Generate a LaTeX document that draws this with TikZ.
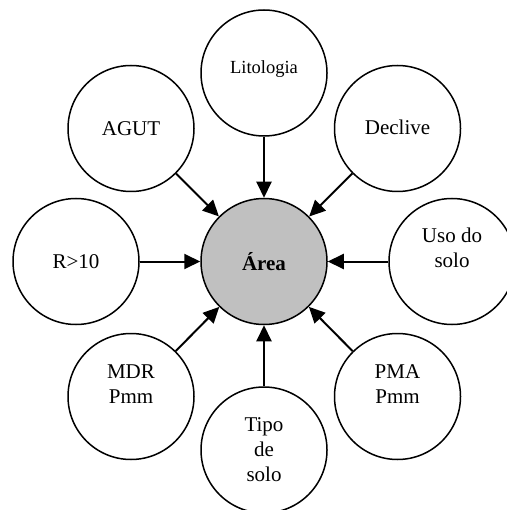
\documentclass[tikz,border=0pt]{standalone}
\usepackage{fontspec}
\setmainfont{Liberation Serif}
\usetikzlibrary{arrows.meta}
\definecolor{areagray}{RGB}{192,192,192}
\tikzset{x=1pt, y=-1pt, % work in page points, y running down
      bubble/.style={ % every factor circle
      circle, draw, line width=1.5pt,
      minimum size=126pt, inner sep=0pt},
      txt/.style={ % text set inside a circle
      align=center, font=\fontsize{21}{25}\selectfont},
      every edge/.style={ % arrows into the centre
            draw,
      -{Triangle[length=16pt,width=15pt]},
      line width=2pt}}

\begin{document}
\begin{tikzpicture}
      \useasboundingbox (0,0) rectangle (506,510);
      \node[bubble, fill=areagray] (area) at (264,261.5) {};
      \node[bubble] (lito) at (264,73) {};
      \node[bubble] (decl) at (397.5,128.5) {};
      \node[bubble] (uso) at (452,261.5) {};
      \node[bubble] (pma) at (397.5,396.5) {};
      \node[bubble] (tipo) at (264,450) {};
      \node[bubble] (mdr) at (131,396.5) {};
      \node[bubble] (rdez) at (76,261.5) {};
      \node[bubble] (agut) at (131,128.5) {};
      % labels
      \node[txt, font=\bfseries\fontsize{21}{25}\selectfont] (area-t) at (area) {Área};
      \node[txt, font=\fontsize{18.5}{22}\selectfont] (lito-t) at ([yshift=4pt]lito) {Litologia};
      \node[txt] (decl-t) at ([yshift=1pt]decl) {Declive};
      \node[txt] (uso-t) at ([yshift=14pt]uso) {Uso do\\solo};
      \node[txt] (pma-t) at ([yshift=12pt]pma) {PMA\\Pmm};
      \node[txt] (tipo-t) at (tipo) {Tipo\\de\\solo};
      \node[txt] (mdr-t) at ([yshift=12pt]mdr) {MDR\\Pmm};
      \node[txt] (rdez-t) at (rdez) {R>10};
      \node[txt] (agut-t) at (agut) {AGUT};
      % arrows
      \draw (lito) edge (area);
      \draw (decl) edge (area);
      \draw (uso) edge (area);
      \draw (pma) edge (area);
      \draw (tipo) edge (area);
      \draw (mdr) edge (area);
      \draw (rdez) edge (area);
      \draw (agut) edge (area);
\end{tikzpicture}
\end{document}
